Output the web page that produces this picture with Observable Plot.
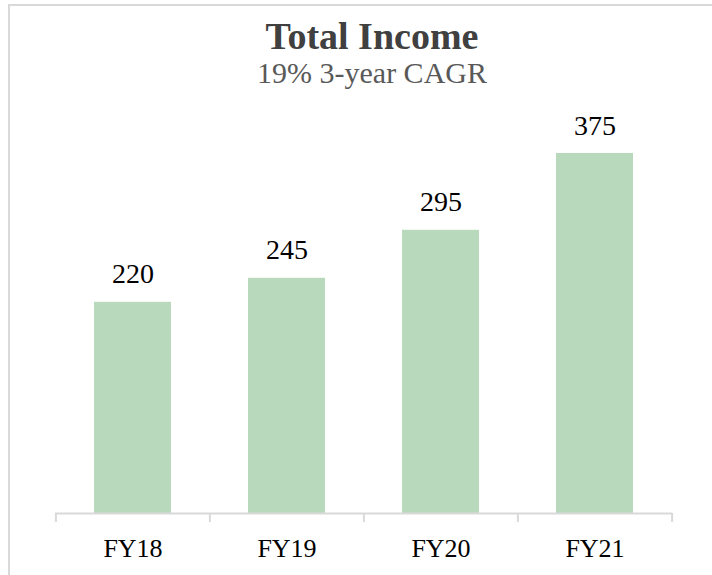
<!DOCTYPE html>
<html>
<head>
<meta charset="utf-8">
<script src="https://cdn.jsdelivr.net/npm/d3@7"></script>
<script src="https://cdn.jsdelivr.net/npm/@observablehq/plot@0.6"></script>
<style>
  html, body { margin: 0; padding: 0; background: #fff; overflow: hidden; }
  #page { position: relative; width: 712px; height: 575px; overflow: hidden; }
  #frame { position: absolute; left: 8px; top: 4px; width: 800px; height: 700px;
           border-left: 2px solid #d9d9d9; border-top: 2px solid #d9d9d9; box-sizing: border-box; }
  .ttl { position: absolute; left: 0; width: 744px; text-align: center; font-family: "Liberation Serif", serif; white-space: nowrap; }
  #title { top: 17px; font-size: 38px; line-height: 38px; font-weight: bold; color: #404040; }
  #subtitle { top: 58px; font-size: 30px; line-height: 30px; color: #595959; }
  #chart { position: absolute; left: 0; top: 100px; }
</style>
</head>
<body>
<div id="page">
  <div id="frame"></div>
  <div id="title" class="ttl">Total Income</div>
  <div id="subtitle" class="ttl">19% 3-year CAGR</div>
  <div id="chart"></div>
</div>
<script>
const categories = ["FY18", "FY19", "FY20", "FY21"];
const values = [220, 245, 295, 375];

const data = categories.map((c, i) => ({cat: c, value: values[i]}));

const W = 712, H = 475, mL = 55, mR = 40, mT = 29, mB = 62;
const yMax = 400;
const step = (W - mL - mR) / categories.length;
const pxPerUnit = (H - mT - mB) / yMax;
const tickLen = 9 / pxPerUnit;
const axisColor = "#d9d9d9";

const chart = Plot.plot({
  width: W, height: H,
  marginLeft: mL, marginRight: mR, marginTop: mT, marginBottom: mB,
  style: {fontFamily: "'Liberation Serif', serif", background: "transparent"},
  x: {domain: categories, paddingInner: 0.5, paddingOuter: 0.25, axis: null},
  y: {domain: [0, yMax], axis: null},
  marks: [
    Plot.barY(data, {x: "cat", y: "value", fill: "#b9d9bd"}),
    Plot.ruleY([0], {stroke: axisColor, strokeWidth: 2}),
    Plot.ruleX(data, {x: "cat", y1: 0, y2: -tickLen, dx: -step / 2, stroke: axisColor, strokeWidth: 2}),
    Plot.ruleX(data.slice(-1), {x: "cat", y1: 0, y2: -tickLen, dx: step / 2, stroke: axisColor, strokeWidth: 2}),
    Plot.text(data, {x: "cat", y: "value", text: d => String(d.value), dy: -19, lineAnchor: "bottom", fontSize: 28, fill: "#000", fontFamily: "'Liberation Serif', serif"}),
    Plot.text(data, {x: "cat", text: "cat", frameAnchor: "bottom", dy: 43, lineAnchor: "bottom", fontSize: 26, fill: "#000", fontFamily: "'Liberation Serif', serif"})
  ]
});
document.getElementById("chart").appendChild(chart);
</script>
</body>
</html>
